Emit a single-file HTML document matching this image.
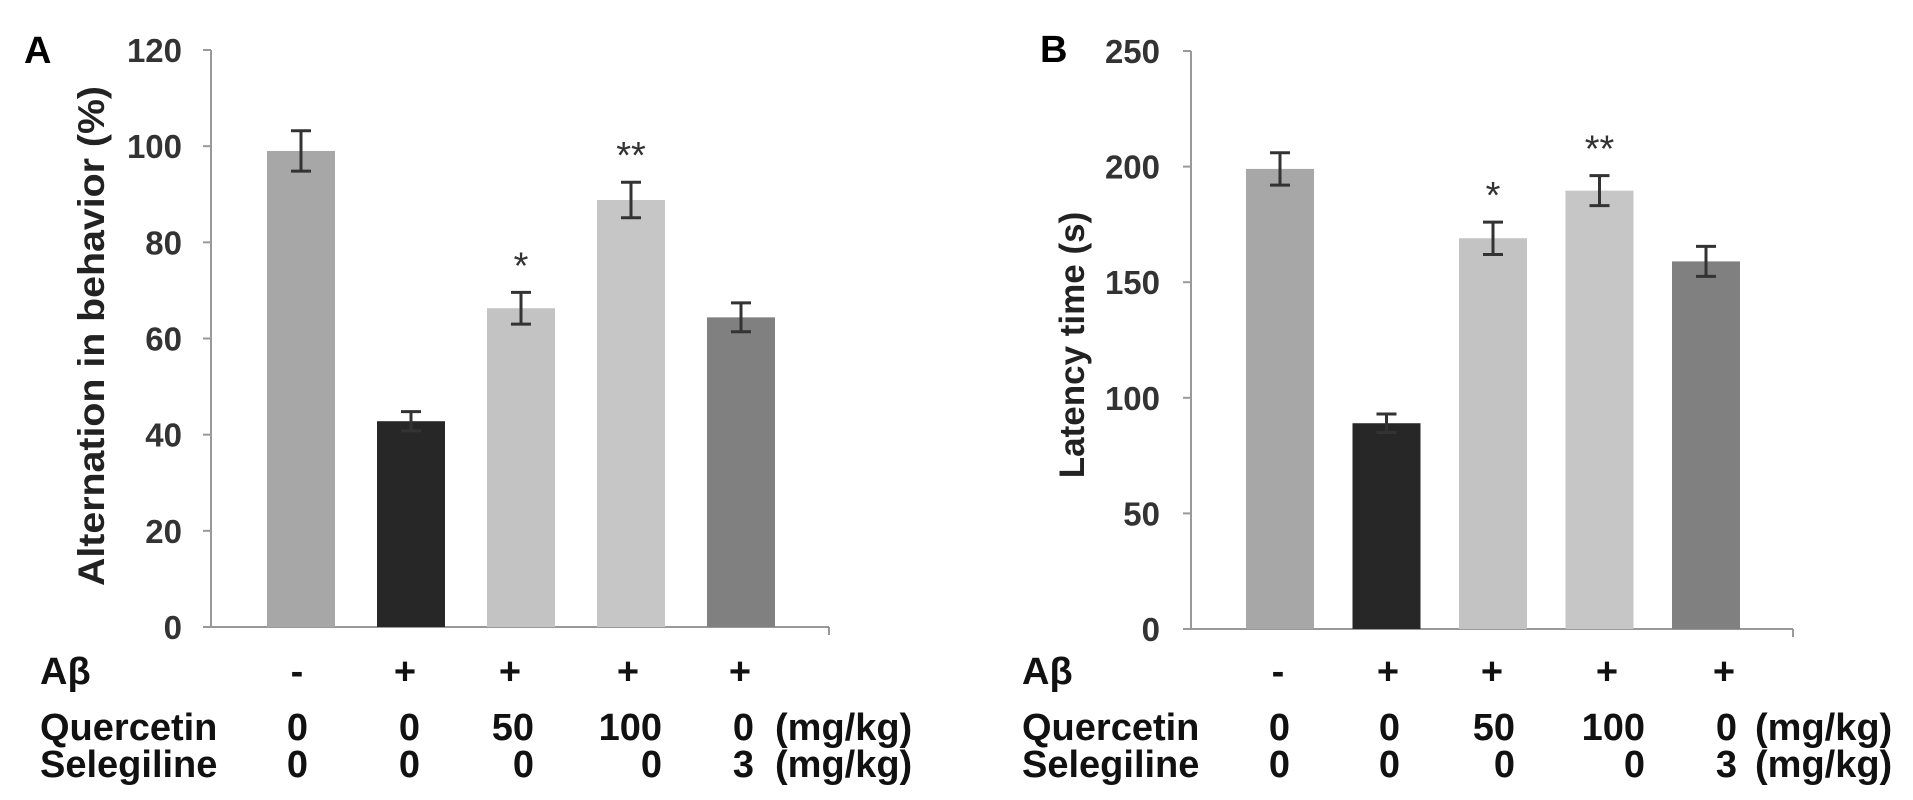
<!DOCTYPE html>
<html><head><meta charset="utf-8"><style>
html,body{margin:0;padding:0;background:#fff;}
svg{display:block;font-family:"Liberation Sans",Arial,sans-serif;}
</style></head><body>
<svg id="fig" width="1913" height="800" viewBox="0 0 1913 800" xmlns="http://www.w3.org/2000/svg">
<text x="24" y="63" font-size="38" font-weight="bold">A</text>
<text x="1040" y="62" font-size="38" font-weight="bold">B</text>
<text transform="translate(104,336) rotate(-90)" text-anchor="middle" font-size="37" font-weight="bold" fill="#222" textLength="500" lengthAdjust="spacingAndGlyphs">Alternation in behavior (%)</text>
<text transform="translate(1084,345) rotate(-90)" text-anchor="middle" font-size="35" font-weight="bold" fill="#222">Latency time (s)</text>
<g id="gA"></g>
<g id="gB"></g>
</svg>
<script>
var valuesA=[99,42.8,66.3,88.8,64.4];
var errorsA=[4.2,2,3.3,3.7,3];
var ticksA=[0,20,40,60,80,100,120];
var starsA=["","","*","**",""];
var valuesB=[199,89,169,189.6,159];
var errorsB=[7,4,7,6.5,6.5];
var ticksB=[0,50,100,150,200,250];
var starsB=["","","*","**",""];
var colors=["#a7a7a7","#272727","#c3c3c3","#c6c6c6","#808080"];
var abRow=["-","+","+","+","+"];
var quercetinRow=["0","0","50","100","0"];
var selegilineRow=["0","0","0","0","3"];
var NS="http://www.w3.org/2000/svg";
function mk(p,t,a){var e=document.createElementNS(NS,t);for(var k in a)e.setAttribute(k,a[k]);p.appendChild(e);return e;}
function draw(g,cfg){
  var y0=cfg.y0,yTop=cfg.yTop,max=cfg.max;
  function ys(v){return y0-(v/max)*(y0-yTop);}
  function xs(i){return cfg.barX0+i*cfg.pitch;}
  var ax=mk(g,'line',{x1:cfg.axX,y1:yTop,x2:cfg.axX,y2:y0,stroke:'#999','stroke-width':2});
  
  
  var xl=mk(g,'line',{x1:cfg.axX-8,y1:y0,x2:cfg.axEnd,y2:y0,stroke:'#999','stroke-width':2});
  
  
  var te=mk(g,'line',{x1:cfg.axEnd,y1:y0,x2:cfg.axEnd,y2:y0+8,stroke:'#999','stroke-width':2});
  
  
  cfg.ticks.forEach(function(t){
    var y=ys(t);
    var tk=mk(g,'line',{x1:cfg.axX-8,y1:y,x2:cfg.axX,y2:y,stroke:'#999','stroke-width':2});
    
    
    var tl=mk(g,'text',{x:cfg.lblX,y:y+12,'text-anchor':'end','font-size':33,'font-weight':'bold',fill:'#333'});
    tl.textContent=t;
    
    
  });
  cfg.values.forEach(function(v,i){
    var x=xs(i),top=ys(v);
    var r=mk(g,'rect',{x:x,y:top,width:cfg.bw,height:y0-top,fill:colors[i]});
    
    
    var cx=x+cfg.bw/2,e=cfg.errors[i],yh=ys(v+e),yl=ys(v-e);
    var eb=mk(g,'path',{d:'M'+cx+','+yh+'V'+yl+'M'+(cx-10)+','+yh+'H'+(cx+10)+'M'+(cx-10)+','+yl+'H'+(cx+10),stroke:'#333','stroke-width':3,fill:'none'});
    
    
    if(cfg.stars[i]){
      var s=mk(g,'text',{x:cx,y:yh-14,'text-anchor':'middle','font-size':38,fill:'#333'});
      s.textContent=cfg.stars[i];
      
      
    }
  });
  var rows=[["Aβ",abRow,684,true],["Quercetin",quercetinRow,740,false],["Selegiline",selegilineRow,777,false]];
  rows.forEach(function(row,ri){
    var h=mk(g,'text',{x:cfg.rowX,y:row[2],'font-size':38,'font-weight':'bold',fill:'#111'});
    h.textContent=row[0];
    
    
    row[1].forEach(function(s,i){
      var t=mk(g,'text',{x:row[3]?cfg.symX[i]:cfg.valR[i],y:row[2],'text-anchor':row[3]?'middle':'end','font-size':38,'font-weight':'bold',fill:'#111'});
      t.textContent=s;
      
      
    });
    if(ri>0){
      var u=mk(g,'text',{x:cfg.unitX,y:row[2],'font-size':38,'font-weight':'bold',fill:'#111'});
      u.textContent="(mg/kg)";
      
      
    }
  });
}
draw(document.getElementById('gA'),{values:valuesA,errors:errorsA,ticks:ticksA,stars:starsA,max:120,y0:627,yTop:50,axX:211,axEnd:829,lblX:182,barX0:267,pitch:110,bw:68,rowX:40,symX:[297,405,510,628,740],valR:[308,420,534,662,754],unitX:775});
draw(document.getElementById('gB'),{values:valuesB,errors:errorsB,ticks:ticksB,stars:starsB,max:250,y0:629,yTop:51,axX:1191,axEnd:1793,lblX:1160,barX0:1246,pitch:106.5,bw:68,rowX:1022,symX:[1278,1388,1492,1607,1724],valR:[1290,1400,1515,1645,1737],unitX:1755});
</script>
</body></html>
